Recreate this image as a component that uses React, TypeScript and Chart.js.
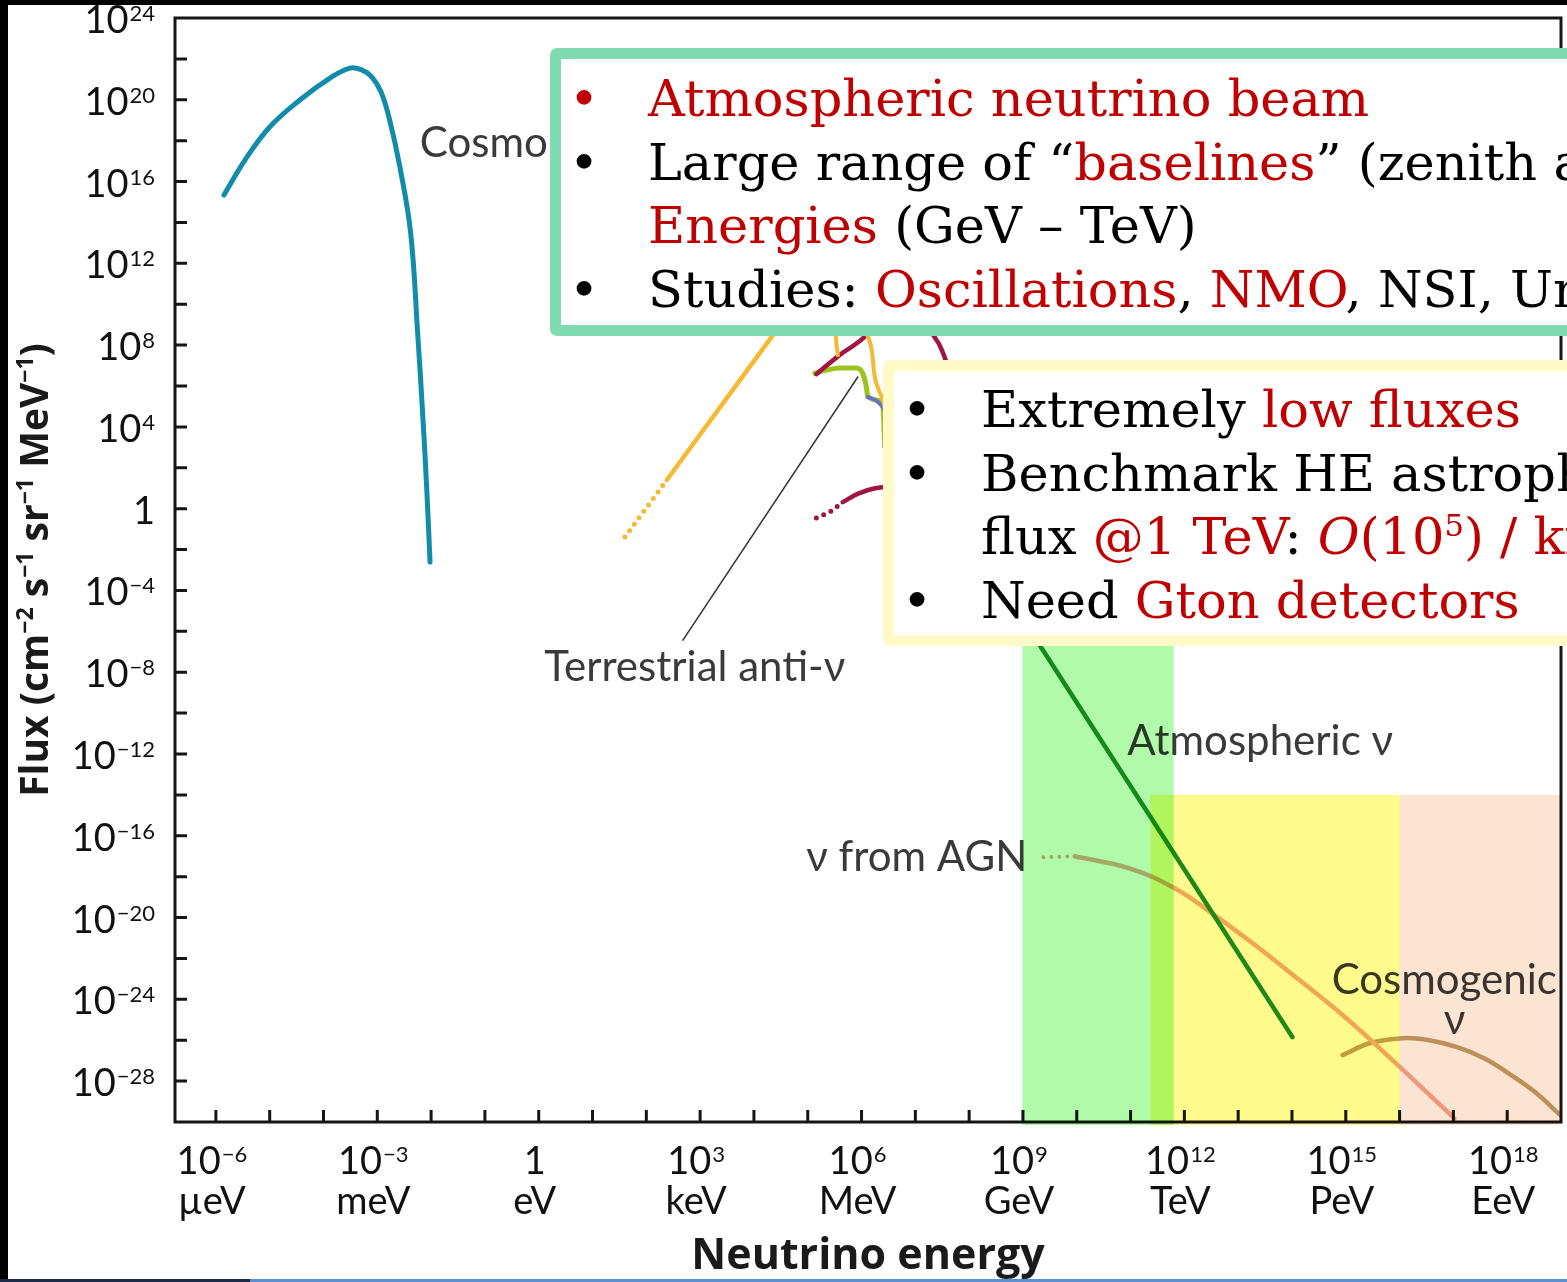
import React, { useEffect, useRef } from "react";
import { Chart, registerables } from "chart.js";

Chart.register(...registerables);

// All series values are log10(energy / eV) and log10(flux)
const cosmoLogE = [-5.85, -5.46, -5.0, -4.44, -3.88, -3.51, -3.29, -3.1, -2.93, -2.77, -2.58, -2.38, -2.25, -2.15, -2.08, -2.02];
const cosmoLogF = [15.34, 17.05, 18.67, 19.99, 21.06, 21.55, 21.46, 21.11, 20.38, 19.01, 16.71, 13.48, 8.59, 4.33, 0.91, -2.61];

const solarDotLogE = [1.6, 1.99, 2.38];
const solarDotLogF = [-1.39, 0.0, 1.4];
const solarRiseLogE = [2.38, 4.38, 4.85];
const solarRiseLogF = [1.4, 8.59, 10.2];
const solarLineLogE = [5.5, 5.52, 5.56];
const solarLineLogF = [10.5, 8.6, 7.5];
const solarBoronLogE = [6.0, 6.09, 6.19, 6.24, 6.32, 6.41, 6.47, 6.56];
const solarBoronLogF = [9.22, 8.59, 7.76, 6.53, 5.8, 5.21, 4.33, 2.38];

const supernovaLogE = [5.16, 5.59, 6.09, 6.71, 7.17, 7.32, 7.45, 7.58, 7.73];
const supernovaLogF = [6.58, 7.51, 8.49, 10.69, 10.2, 8.59, 8.0, 7.12, 5.31];

const terrestrialLogE = [5.13, 5.35, 5.59, 5.91, 6.02, 6.09, 6.11, 6.28, 6.39, 6.41, 6.43];
const terrestrialLogF = [6.63, 6.78, 6.88, 6.88, 6.63, 5.95, 5.56, 5.31, 5.16, 4.48, 3.01];

const reactorLogE = [6.11, 6.26, 6.41, 6.61];
const reactorLogF = [5.46, 5.31, 4.92, 3.84];

const oldSnDotLogE = [5.16, 5.41, 5.65];
const oldSnDotLogF = [-0.46, -0.17, 0.32];
const oldSnLogE = [5.65, 5.96, 6.39, 7.08];
const oldSnLogF = [0.32, 0.76, 1.05, 0.91];

const leaderLogE = [5.93, 2.68];
const leaderLogF = [6.44, -6.43];

const atmosLogE = [8.77, 11.35, 14.01];
const atmosLogF = [-4.47, -15.0, -25.85];

const agnDotLogE = [9.38, 9.96];
const agnDotLogF = [-17.05, -17.0];
const agnLogE = [9.96, 10.98, 11.82, 12.56, 13.39, 14.14, 14.88, 15.53, 16.27, 17.02];
const agnLogF = [-17.0, -17.59, -18.57, -19.88, -21.5, -23.06, -24.63, -26.15, -27.96, -29.82];

const cosmogenicLogE = [14.94, 15.44, 16.05, 16.55, 17.07, 17.57, 18.02, 18.5, 18.99];
const cosmogenicLogF = [-26.73, -26.15, -25.9, -26.0, -26.34, -26.88, -27.61, -28.5, -29.67];

// Shaded energy bands: [from, to] in log10(E), top in log10(flux)
const greenBandLogE = [8.99, 11.8];
const greenBandTop = -6;
const yellowBandLogE = [11.37, 16.0];
const yellowBandTop = -14;
const peachBandLogE = [16.0, 19.0];
const peachBandTop = -14;

// Axes
const xMinExp = -6.76;
const xMaxExp = 19;
const yMinExp = -30;
const yMaxExp = 24;
const xLabelExps = [-6, -3, 0, 3, 6, 9, 12, 15, 18];
const xLabelUnits = ["µeV", "meV", "eV", "keV", "MeV", "GeV", "TeV", "PeV", "EeV"];
const xTickExps = [-6, -5, -4, -3, -2, -1, 0, 1, 2, 3, 4, 5, 6, 7, 8, 9, 10, 11, 12, 13, 14, 15, 16, 17, 18];
const yLabelExps = [-28, -24, -20, -16, -12, -8, -4, 0, 4, 8, 12, 16, 20, 24];
const yTickExps = [-28, -26, -24, -22, -20, -18, -16, -14, -12, -10, -8, -6, -4, -2, 0, 2, 4, 6, 8, 10, 12, 14, 16, 18, 20, 22];

const xTitle = "Neutrino energy";
// y title as [text, isSuperscript]
const yTitleParts: [string, boolean][] = [
  ["Flux (cm", false], ["−2", true], [" s", false], ["−1", true], [" sr", false], ["−1", true], [" MeV", false], ["−1", true], [")", false],
];

// Curve labels
const curveLabels = [
  { text: "Cosmological ν", logE: -2.21, logF: 17.88, align: "left" },
  { text: "Terrestrial anti-ν", logE: 2.9, logF: -7.75, align: "center" },
  { text: "Atmospheric ν", logE: 10.94, logF: -11.37, align: "left" },
  { text: "ν from AGN", logE: 9.08, logF: -17.05, align: "right" },
  { text: "Cosmogenic", logE: 16.83, logF: -23.07, align: "center" },
  { text: "ν", logE: 17.02, logF: -25.02, align: "center" },
];

const L = (v: number) => Math.pow(10, v);
const pts = (xs: number[], ys: number[]) => xs.map((x, i) => ({ x: L(x), y: L(ys[i]) }));

const SANS = "Lato, 'Open Sans', sans-serif";
const TITLE = "'Open Sans', Lato, sans-serif";
const RED = "#c00000";

// draw "10^e" with a real raised exponent
function drawPow(ctx: CanvasRenderingContext2D, e: number, x: number, baseline: number, align: "right" | "center") {
  const base = e === 0 ? "1" : "10";
  const ex = e === 0 ? "" : String(e).replace("-", "−");
  ctx.font = `38px ${SANS}`;
  const wb = ctx.measureText(base).width;
  ctx.font = `22px ${SANS}`;
  const we = ex ? ctx.measureText(ex).width + 1 : 0;
  const total = wb + we;
  const x0 = align === "right" ? x - total : x - total / 2;
  ctx.textAlign = "left";
  ctx.textBaseline = "alphabetic";
  ctx.font = `38px ${SANS}`;
  ctx.fillText(base, x0, baseline);
  if (ex) {
    ctx.font = `22px ${SANS}`;
    ctx.fillText(ex, x0 + wb + 1, baseline - 12);
  }
}

const decorPlugin = {
  id: "decor",
  beforeDraw(chart: any) {
    const { ctx, width, height } = chart;
    ctx.save();
    ctx.fillStyle = "#ffffff";
    ctx.fillRect(0, 0, width, height);
    ctx.fillStyle = "#000000";
    ctx.fillRect(0, 0, width, 5);
    ctx.fillRect(0, 0, 8, height - 3);
    ctx.fillStyle = "#5b8fd0";
    ctx.fillRect(0, height - 3, width, 3);
    ctx.fillStyle = "#1c2a48";
    ctx.fillRect(0, height - 3, 250, 3);
    ctx.restore();
  },
  afterDatasetsDraw(chart: any) {
    const { ctx, chartArea: a, scales } = chart;
    const xs = scales.x;
    const ys = scales.y;
    ctx.save();
    // curve labels
    ctx.font = `42px ${SANS}`;
    ctx.fillStyle = "#3a3a3a";
    ctx.textBaseline = "middle";
    for (const l of curveLabels) {
      ctx.textAlign = l.align as CanvasTextAlign;
      ctx.fillText(l.text, xs.getPixelForValue(L(l.logE)), ys.getPixelForValue(L(l.logF)));
    }
    // frame
    ctx.strokeStyle = "#151515";
    ctx.lineWidth = 3;
    ctx.strokeRect(a.left, a.top, a.right - a.left, a.bottom - a.top);
    // inward ticks
    ctx.beginPath();
    for (const e of xTickExps) {
      const px = xs.getPixelForValue(L(e));
      ctx.moveTo(px, a.bottom);
      ctx.lineTo(px, a.bottom - 12);
    }
    for (const e of yTickExps) {
      const py = ys.getPixelForValue(L(e));
      ctx.moveTo(a.left, py);
      ctx.lineTo(a.left + 12, py);
    }
    ctx.stroke();

    // tick labels (from the scales' own ticks)
    ctx.fillStyle = "#111111";
    for (const t of ys.ticks) {
      const e = Math.round(Math.log10(t.value));
      if (yLabelExps.indexOf(e) < 0) continue;
      drawPow(ctx, e, a.left - 20, ys.getPixelForValue(t.value) + 15, "right");
    }
    for (const t of xs.ticks) {
      const e = Math.round(Math.log10(t.value));
      const i = xLabelExps.indexOf(e);
      if (i < 0) continue;
      const px = xs.getPixelForValue(t.value) - 4;
      drawPow(ctx, e, px, a.bottom + 52, "center");
      ctx.font = `38px ${SANS}`;
      ctx.textAlign = "center";
      ctx.fillText(xLabelUnits[i], px, a.bottom + 92);
    }
    // axis titles
    ctx.fillStyle = "#1a1a1a";
    ctx.font = `bold 43px ${TITLE}`;
    ctx.textAlign = "center";
    ctx.textBaseline = "alphabetic";
    ctx.fillText(xTitle, (a.left + a.right) / 2, a.bottom + 147);

    const big = `bold 39px ${TITLE}`;
    const small = `bold 23px ${TITLE}`;
    let total = 0;
    for (const [s, isSup] of yTitleParts) {
      ctx.font = isSup ? small : big;
      total += ctx.measureText(s).width;
    }
    ctx.save();
    ctx.translate(48, (a.top + a.bottom) / 2);
    ctx.rotate(-Math.PI / 2);
    let cx = -total / 2;
    ctx.textAlign = "left";
    for (const [s, isSup] of yTitleParts) {
      ctx.font = isSup ? small : big;
      ctx.fillText(s, cx, isSup ? -15 : 0);
      cx += ctx.measureText(s).width;
    }
    ctx.restore();

    // shaded bands (multiply)
    ctx.globalCompositeOperation = "multiply";
    const band = (r: number[], top: number, color: string) => {
      const x0 = xs.getPixelForValue(L(r[0]));
      const x1 = xs.getPixelForValue(L(r[1]));
      const y0 = ys.getPixelForValue(L(top));
      ctx.fillStyle = color;
      ctx.fillRect(x0, y0, x1 - x0, a.bottom + 3 - y0);
    };
    band(greenBandLogE, greenBandTop, "rgb(176,250,170)");
    band(yellowBandLogE, yellowBandTop, "rgb(255,250,140)");
    band(peachBandLogE, peachBandTop, "rgb(252,228,210)");
    ctx.restore();
  },
};

function line(data: any[], color: string, width: number, opts: any = {}) {
  return {
    data,
    borderColor: color,
    borderWidth: width,
    pointRadius: 0,
    fill: false,
    tension: 0.4,
    borderCapStyle: "round",
    borderJoinStyle: "round",
    ...opts,
  };
}

const dotted = { borderDash: [0, 8], tension: 0 };
const straight = { tension: 0 };
const mono = { cubicInterpolationMode: "monotone" };

function FluxChart() {
  const ref = useRef<HTMLCanvasElement | null>(null);
  useEffect(() => {
    if (!ref.current) return;
    const TEAL = "#138cab";
    const ORANGE = "#f6b933";
    const MAROON = "#a01446";
    const chart = new Chart(ref.current, {
      type: "line",
      data: {
        datasets: [
          line(pts(leaderLogE, leaderLogF), "#333333", 1.5, straight),
          line(pts(cosmoLogE, cosmoLogF), TEAL, 5),
          line(pts(solarDotLogE, solarDotLogF), ORANGE, 5, dotted),
          line(pts(solarRiseLogE, solarRiseLogF), ORANGE, 4.5, straight),
          line(pts(solarLineLogE, solarLineLogF), ORANGE, 4, mono),
          line(pts(solarBoronLogE, solarBoronLogF), ORANGE, 4, mono),
          line(pts(supernovaLogE, supernovaLogF), MAROON, 4.5),
          line(pts(reactorLogE, reactorLogF), "#6a73c0", 4, mono),
          line(pts(terrestrialLogE, terrestrialLogF), "#9dc41e", 5, mono),
          line(pts(oldSnDotLogE, oldSnDotLogF), MAROON, 5, dotted),
          line(pts(oldSnLogE, oldSnLogF), MAROON, 4.5),
          line(pts(atmosLogE, atmosLogF), "#1e8c28", 4.5, straight),
          line(pts(agnDotLogE, agnDotLogF), "#f0aa96", 4, dotted),
          line(pts(agnLogE, agnLogF), "#f0aa96", 4.5),
          line(pts(cosmogenicLogE, cosmogenicLogF), "#c0a06e", 4.5),
        ] as any,
      },
      options: {
        animation: false,
        responsive: false,
        events: [],
        layout: { padding: { top: 18, right: 6, left: 0, bottom: 0 } },
        plugins: { legend: { display: false }, tooltip: { enabled: false } },
        scales: {
          x: {
            type: "logarithmic",
            min: L(xMinExp),
            max: L(xMaxExp),
            grid: { display: false, drawTicks: false, tickLength: 0 },
            border: { display: false },
            afterBuildTicks: (s: any) => {
              s.ticks = xLabelExps.map((e) => ({ value: L(e) }));
            },
            afterFit: (s: any) => {
              s.height = 160;
              s.paddingLeft = 0;
              s.paddingRight = 0;
            },
            ticks: { display: false, autoSkip: false },
            title: { display: false, text: xTitle },
          },
          y: {
            type: "logarithmic",
            min: L(yMinExp),
            max: L(yMaxExp),
            grid: { display: false, drawTicks: false, tickLength: 0 },
            border: { display: false },
            afterBuildTicks: (s: any) => {
              s.ticks = yLabelExps.map((e) => ({ value: L(e) }));
            },
            afterFit: (s: any) => {
              s.width = 175;
              s.paddingTop = 0;
              s.paddingBottom = 0;
            },
            ticks: { display: false, autoSkip: false },
            title: { display: false, text: "Flux (cm⁻² s⁻¹ sr⁻¹ MeV⁻¹)" },
          },
        },
      } as any,
      plugins: [decorPlugin as any],
    });
    return () => chart.destroy();
  }, []);
  return <canvas ref={ref} width={1567} height={1282} style={{ position: "absolute", left: 0, top: 0, width: 1567, height: 1282 }} />;
}

const R = ({ children }: { children: React.ReactNode }) => <span style={{ color: RED }}>{children}</span>;

const lineStyle: React.CSSProperties = { position: "relative", paddingLeft: 87, height: 63.5 };
const Bullet = ({ red }: { red?: boolean }) => (
  <span style={{ position: "absolute", left: 8, top: 0, color: red ? RED : "#000" }}>•</span>
);

function Box({ left, top, height, color, padTop, children }: any) {
  return (
    <div
      style={{
        position: "absolute",
        left,
        top,
        width: 1300,
        height,
        boxSizing: "border-box",
        border: `11px solid ${color}`,
        borderRadius: 7,
        background: "#ffffff",
        fontFamily: "'DejaVu Serif', serif",
        fontSize: 51,
        lineHeight: "63.5px",
        color: "#000",
        whiteSpace: "nowrap",
        paddingTop: padTop,
      }}
    >
      {children}
    </div>
  );
}

export default function App() {
  useEffect(() => {
    document.body.style.margin = "0";
    document.body.style.overflow = "hidden";
  }, []);
  return (
    <div style={{ position: "absolute", left: 0, top: 0, width: 1567, height: 1282, overflow: "hidden", background: "#fff" }}>
      <FluxChart />
      <Box left={550} top={48} height={288} color="#80dcb0" padTop={8}>
        <div style={lineStyle}>
          <Bullet red />
          <R>Atmospheric neutrino beam</R>
        </div>
        <div style={lineStyle}>
          <Bullet />
          Large range of “<R>baselines</R>” (zenith angle) and
        </div>
        <div style={lineStyle}>
          <R>Energies</R> (GeV – TeV)
        </div>
        <div style={lineStyle}>
          <Bullet />
          Studies: <R>Oscillations</R>, <R>NMO</R>, NSI, Unitarity
        </div>
      </Box>
      <Box left={883} top={360} height={286} color="#fffac8" padTop={7}>
        <div style={lineStyle}>
          <Bullet />
          Extremely <R>low fluxes</R>
        </div>
        <div style={lineStyle}>
          <Bullet />
          Benchmark HE astrophysical
        </div>
        <div style={lineStyle}>
          flux <R>@1 TeV</R>:{" "}
          <R>
            <i>O</i>(10
            <span style={{ fontSize: "0.6em", position: "relative", top: "-0.6em", lineHeight: 1 }}>5</span>) / km²/yr
          </R>
        </div>
        <div style={lineStyle}>
          <Bullet />
          Need <R>Gton detectors</R>
        </div>
      </Box>
    </div>
  );
}
